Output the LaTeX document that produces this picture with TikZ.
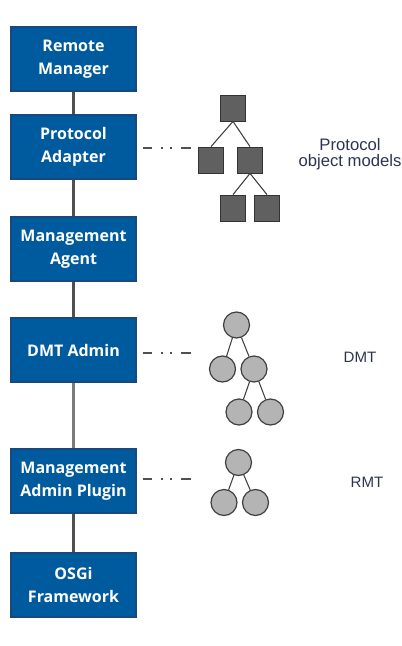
\documentclass[tikz,border=0pt]{standalone}
\usepackage{fontspec}
\setmainfont{Open Sans}
\newfontfamily\labelfont{Liberation Sans}
\definecolor{boxblue}{RGB}{0,91,158}
\definecolor{boxedge}{RGB}{24,72,125}
\definecolor{wire}{RGB}{80,80,80}
\definecolor{labelnavy}{RGB}{45,52,82}
\definecolor{objdark}{RGB}{96,96,96}
\definecolor{objlight}{RGB}{180,180,180}
\begin{document}
\begin{tikzpicture}[x=0.75pt,y=-0.75pt,
    layer/.style={draw=boxedge, line width=1pt, fill=boxblue, text=white,
        minimum width=93.75pt, minimum height=48pt, align=center,
        font=\fontsize{12}{17}\selectfont\bfseries},
    objsq/.style={draw=black!80, fill=objdark, line width=0.6pt,
        minimum width=19pt, minimum height=19.5pt, inner sep=0pt},
    objci/.style={circle, draw=black!75, fill=objlight, line width=0.9pt,
        minimum size=19.5pt, inner sep=0pt},
    stack/.style={wire, line width=1.8pt},
    treeline/.style={black!75, line width=0.8pt},
    dotlink/.style={wire, line width=1.1pt,
        dash pattern=on 7pt off 6.5pt on 1.5pt off 5.5pt on 1.5pt off 7pt on 7.5pt},
    modelname/.style={text=labelnavy, align=center, inner sep=0pt}]
    \useasboundingbox (0,0) rectangle (402,646);

    \node[layer] (rm)   at (73.5,59)  {Remote\\Manager};
    \node[layer] (pa)   at (73.5,147) {Protocol\\Adapter};
    \node[layer] (ma)   at (73.5,249) {Management\\Agent};
    \node[layer] (dmt)  at (73.5,350) {DMT Admin};
    \node[layer] (map)  at (73.5,481) {Management\\Admin Plugin};
    \node[layer] (osgi) at (73.5,585) {OSGi\\Framework};

    \draw[stack] (rm) -- (pa);
    \draw[stack] (pa) -- (ma);
    \draw[stack] (ma) -- (dmt);
    \draw[stack, wire!75] (dmt) -- (map);
    \draw[stack] (map) -- (osgi);

    \node[objsq] (p1) at (233,108) {};
    \node[objsq] (p2) at (211,160) {};
    \node[objsq] (p3) at (250,160) {};
    \node[objsq] (p4) at (233,208) {};
    \node[objsq] (p5) at (267,208) {};
    \draw[treeline] (p1.south) -- (p2.north);
    \draw[treeline] (p1.south) -- (p3.north);
    \draw[treeline] (p3.south) -- (p4.north);
    \draw[treeline] (p3.south) -- (p5.north);

    \node[objci] (d1) at (236.5,325) {};
    \node[objci] (d2) at (222.5,369) {};
    \node[objci] (d3) at (254,369) {};
    \node[objci] (d4) at (239,412) {};
    \node[objci] (d5) at (270.5,412) {};
    \draw[treeline] (d1) -- (d2);
    \draw[treeline] (d1) -- (d3);
    \draw[treeline] (d3) -- (d4);
    \draw[treeline] (d3) -- (d5);

    \node[objci] (r1) at (238.5,462.5) {};
    \node[objci] (r2) at (224,502.5) {};
    \node[objci] (r3) at (255.5,502.5) {};
    \draw[treeline] (r1) -- (r2);
    \draw[treeline] (r1) -- (r3);

    \coordinate (pend) at (192,148);
    \coordinate (dend) at (191,353);
    \coordinate (rend) at (192,479);
    \draw[dotlink, shorten <=4.5pt] (pa.east |- pend) -- (pend);
    \draw[dotlink, shorten <=4.5pt] (dmt.east |- dend) -- (dend);
    \draw[dotlink, shorten <=4.5pt] (map.east |- rend) -- (rend);

    \node[modelname, font=\labelfont\fontsize{12.5}{11.7}\selectfont] (pom) at (350,154) {Protocol\\object models};
    \node[modelname, font=\labelfont\fontsize{11.3}{13}\selectfont] (dmtl) at (360,357) {DMT};
    \node[modelname, font=\labelfont\fontsize{11.3}{13}\selectfont] (rmtl) at (367,482) {RMT};
\end{tikzpicture}
\end{document}
